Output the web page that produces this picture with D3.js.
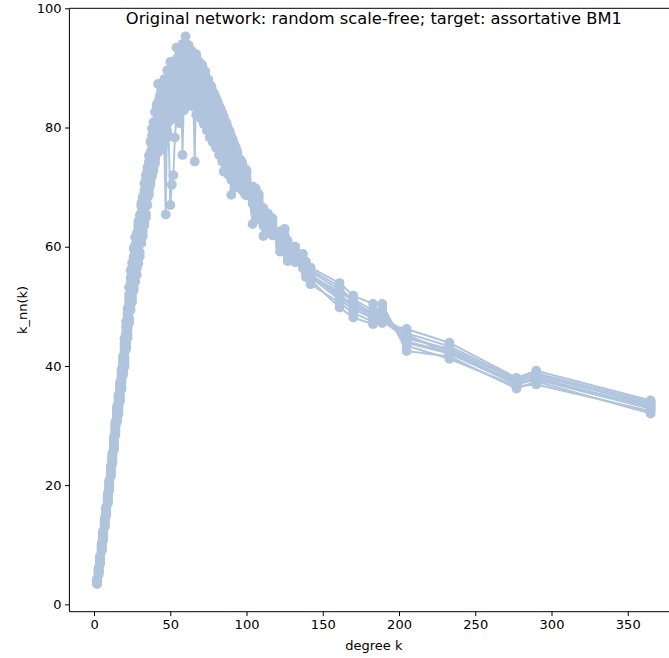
<!DOCTYPE html>
<html>
<head>
<meta charset="utf-8">
<script src="https://cdn.jsdelivr.net/npm/d3@7"></script>
<style>
  html, body { margin: 0; padding: 0; background: #fff; }
  svg { display: block; font-family: "DejaVu Sans", sans-serif; }
</style>
</head>
<body>
<svg id="chart" width="669" height="658"></svg>
<script>
// Degrees present in the network (shared by every rewiring run)
const degrees = [2,3,4,5,6,7,8,9,10,11,12,13,14,15,16,17,18,19,20,21,22,23,24,25,26,27,28,29,30,
  31,32,33,34,35,36,37,38,39,40,41,42,43,44,45,46,47,48,49,50,51,52,53,54,55,56,57,58,59,60,
  61,62,63,64,65,66,67,68,69,70,71,72,73,74,75,76,77,78,79,80,81,82,83,84,85,86,87,88,89,90,
  91,92,93,94,96,97,99,100,104,106,108,111,114,117,122,125,127,132,137,139,142,
  161,170,183,189,205,233,277,290,365];

// Average nearest-neighbour degree k_nn(k), one array per run
const runA = [3.6,5.4,7.3,9.2,11.4,13.6,15.3,17.8,19.6,22.4,24.1,27.3,29.0,31.8,33.2,35.5,37.9,39.6,42.3,44.0,
  47.8,49.1,52.9,54.1,56.2,57.4,59.8,60.4,62.7,63.2,65.8,66.7,68.9,69.6,71.0,72.6,74.1,75.8,76.2,78.3,
  77.6,80.4,79.1,81.8,80.2,83.5,82.0,84.6,83.1,85.9,84.4,86.8,85.2,87.9,86.3,89.4,87.0,90.2,88.5,91.0,
  89.3,90.6,88.0,91.3,87.5,90.1,86.9,89.5,85.8,88.4,84.9,87.6,83.8,86.5,82.7,85.3,81.9,84.0,80.8,82.9,
  79.7,81.6,78.8,80.3,77.5,79.0,76.4,77.8,75.0,76.5,73.9,75.2,72.6,71.4,73.0,70.1,71.5,
  69.6,68.2,66.0,66.5,63.4,64.8,61.0,62.9,59.4,59.6,57.3,56.1,55.0,
  52.0,50.2,48.6,48.0,45.0,42.6,37.2,37.9,33.2];
const runB = [4.1,5.9,7.0,9.8,11.0,13.1,16.0,17.2,20.3,21.5,25.0,26.4,30.2,30.9,34.6,34.1,36.6,41.2,40.6,46.5,
  45.3,52.0,50.2,51.6,53.1,60.3,56.4,63.5,59.1,66.8,62.5,69.4,65.5,72.6,69.2,74.5,72.0,73.4,79.5,75.6,
  80.8,78.2,82.7,79.6,84.5,81.3,86.2,82.9,88.4,84.0,89.5,85.5,90.3,86.4,91.0,87.7,92.5,88.8,93.2,89.6,
  93.8,87.4,91.7,88.6,92.1,86.8,90.7,85.9,89.6,84.7,88.8,83.4,87.9,82.6,86.6,81.5,85.4,80.6,84.3,79.5,
  83.1,78.4,82.0,77.3,80.9,76.2,79.6,74.9,78.3,73.6,77.0,72.4,75.7,74.3,70.6,72.7,69.2,
  67.9,69.8,68.4,64.2,65.6,62.7,62.6,60.6,61.0,58.1,58.8,57.5,56.5,
  53.9,51.8,50.4,47.2,46.2,43.9,38.0,39.2,34.2];
const runC = [3.5,5.2,7.8,8.9,12.0,14.2,15.1,18.3,19.1,22.9,23.6,27.8,28.6,32.4,31.9,36.9,38.8,38.5,43.8,43.1,
  49.6,47.3,54.8,57.3,58.4,55.0,62.2,58.0,65.3,60.6,68.1,64.3,71.2,67.0,75.3,70.4,76.5,80.9,74.0,83.8,
  78.9,82.6,80.0,83.9,82.1,85.4,80.6,87.8,82.3,87.3,85.8,89.9,87.0,91.8,88.5,92.8,89.6,93.6,90.8,93.9,
  88.1,92.2,86.5,90.4,89.2,91.9,88.0,90.3,87.4,89.9,86.2,88.7,85.0,87.8,84.3,86.6,83.1,85.2,82.0,84.0,
  80.9,82.9,79.6,81.5,78.4,80.3,77.3,79.0,68.7,77.8,75.0,76.4,73.8,72.5,73.9,71.0,72.4,
  63.8,67.1,65.5,65.8,64.0,63.9,59.2,61.9,57.6,59.0,56.4,55.5,53.7,
  50.6,48.9,47.4,49.6,43.4,41.2,36.6,36.9,32.4];
const runD = [3.9,6.1,6.8,9.5,11.7,13.0,16.4,17.5,20.8,21.8,24.8,26.9,29.7,31.2,33.8,35.1,37.2,40.7,41.5,45.2,
  46.1,50.6,49.4,53.0,54.5,58.9,57.6,62.1,60.5,64.9,63.7,68.0,66.8,71.4,70.1,77.6,73.0,74.6,77.8,76.9,
  87.3,79.5,86.1,80.7,78.6,65.4,84.8,81.4,86.9,83.2,87.9,84.7,89.1,85.6,92.4,88.9,75.4,86.4,95.3,87.8,
  91.5,89.0,92.9,87.2,74.3,88.4,91.2,87.1,90.2,86.0,89.3,85.2,88.2,84.1,87.0,83.0,85.9,82.1,84.9,80.8,
  83.6,79.9,82.5,78.7,81.1,77.6,79.8,76.3,78.5,75.2,77.2,73.7,75.9,74.6,71.8,73.1,70.0,
  69.0,66.0,67.9,61.8,65.1,62.2,62.1,60.1,60.2,58.5,58.0,57.0,55.8,
  52.8,51.2,49.3,47.6,44.6,42.9,37.6,38.4,33.6];
const runE = [4.3,5.6,7.5,10.3,10.8,13.9,15.7,16.9,19.9,23.2,25.4,25.9,30.6,32.0,35.1,37.2,36.1,39.0,39.9,47.4,
  44.7,53.2,51.7,55.6,59.7,54.1,60.9,57.2,63.9,61.4,66.9,63.6,70.0,68.2,72.8,71.3,79.8,72.8,82.6,79.7,
  76.1,85.2,78.4,85.1,86.0,82.7,87.1,85.7,89.0,88.6,90.5,88.2,91.4,89.7,87.6,90.9,93.0,91.7,89.4,92.6,
  86.9,93.1,89.8,92.0,88.3,92.3,85.6,91.0,84.5,90.5,83.7,89.4,82.5,88.0,81.4,86.9,80.3,85.6,79.2,84.4,
  78.5,83.2,77.4,81.9,76.5,80.7,75.2,79.4,74.1,77.9,72.8,76.6,71.7,70.2,74.2,69.3,72.8,
  68.3,69.3,64.6,66.1,62.8,64.5,60.4,63.0,58.8,60.0,57.6,55.9,54.4,
  49.8,48.1,47.0,50.4,42.5,41.6,36.2,37.4,32.0];
const runF = [3.7,5.0,8.1,9.1,12.3,14.5,14.9,18.6,20.1,22.0,24.4,28.1,28.9,33.1,32.5,34.4,39.4,41.6,44.6,42.8,
  48.9,48.0,56.0,50.8,52.7,61.6,55.3,64.2,58.4,67.3,61.8,70.6,64.9,73.3,68.7,75.8,71.9,78.4,75.1,77.4,
  81.9,77.0,81.5,76.3,80.9,79.8,83.3,78.5,67.0,70.4,72.0,78.3,81.6,84.0,80.7,83.5,85.8,82.9,86.7,84.2,
  88.0,85.3,83.6,86.8,84.9,82.1,87.4,83.9,88.6,82.6,87.1,81.8,86.3,80.4,85.5,79.6,84.2,78.7,83.0,77.9,
  82.0,77.2,80.8,72.6,79.6,75.3,74.0,73.4,77.0,72.5,75.6,70.9,74.3,73.0,69.5,71.6,68.6,
  70.1,67.5,68.8,64.9,64.4,63.1,61.7,61.2,60.5,58.8,56.9,56.6,56.1,
  53.3,50.6,48.9,48.3,45.5,43.3,37.8,38.8,33.9];
const runG = [3.8,5.7,7.6,9.7,11.2,13.4,15.9,17.9,20.6,22.2,24.7,27.0,29.4,31.5,33.5,35.8,37.5,40.2,
  42.9,45.6,46.9,50.1,51.2,54.7,55.8,57.9,59.3,61.1,62.3,64.4,67.1,66.3,69.5,70.8,
  72.1,73.2,75.2,76.9,78.6,80.1,81.4,82.1,83.4,84.0,84.9,83.7,86.1,85.0,87.6,86.9,88.7,87.8,89.9,88.6,91.2,89.5,92.4,90.1,91.9,
  90.7,92.0,89.4,90.9,88.8,89.9,87.7,88.9,86.6,87.8,85.6,86.7,84.6,85.9,83.5,84.7,82.4,83.5,81.3,82.5,
  80.5,81.2,79.3,80.1,78.2,79.0,77.1,76.4,77.6,75.0,76.1,73.8,74.6,73.2,
  72.0,72.6,71.2,70.6,
  68.7,68.9,66.9,65.4,64.7,63.5,61.5,61.8,59.8,59.3,57.9,56.8,55.4,
  51.5,50.0,48.2,48.8,44.1,42.3,37.0,38.1,33.0];
const runH = [3.4,5.8,7.1,9.9,11.9,13.3,15.6,18.1,19.4,21.7,23.9,26.6,29.9,30.6,34.0,36.3,38.2,39.3,
  41.0,43.6,48.3,47.8,53.9,52.4,57.8,56.6,61.2,58.8,64.0,63.0,67.8,65.1,69.0,71.9,
  69.8,73.6,72.6,76.1,74.6,78.9,75.9,80.6,78.0,82.9,77.3,84.1,79.4,85.6,81.2,86.3,83.0,87.1,84.5,88.2,85.9,89.0,86.5,90.5,87.9,
  89.9,86.3,88.7,85.1,87.9,84.0,86.1,82.8,85.0,81.5,84.0,80.6,83.1,79.5,82.2,78.3,81.0,77.5,79.9,76.6,
  78.7,75.4,77.9,74.3,76.8,73.0,75.7,72.1,74.4,71.2,73.1,69.9,72.0,70.8,
  70.6,71.4,68.8,69.7,
  67.2,66.5,65.0,63.5,63.6,61.9,60.0,59.8,58.4,57.4,56.6,54.9,54.9,
  51.1,49.5,48.0,49.0,43.9,42.1,36.9,37.7,32.8];
const runI = [4.0,5.3,7.9,9.4,11.6,14.0,16.2,17.3,20.0,22.6,24.2,26.2,28.4,32.7,33.0,35.9,38.4,40.1,
  43.3,44.9,46.6,51.3,50.8,56.5,54.0,59.2,60.1,62.9,62.0,65.7,68.4,67.5,72.0,69.4,
  74.2,71.0,78.6,73.6,81.0,77.9,84.3,79.0,86.7,82.3,88.1,81.0,89.6,84.7,91.0,87.4,90.1,88.3,93.4,89.1,91.4,87.6,94.0,90.6,92.7,
  88.9,92.8,87.3,89.6,90.7,86.2,89.3,88.2,86.5,87.3,85.2,84.1,86.0,82.9,84.0,83.6,81.7,82.8,80.2,81.6,
  79.1,80.0,78.1,78.8,76.9,77.9,75.7,76.8,74.6,75.6,73.3,74.5,72.2,73.7,
  71.7,72.3,70.5,71.1,
  68.9,67.0,67.4,64.6,65.3,63.0,62.4,61.5,59.0,58.6,57.0,56.3,55.2,
  52.4,51.0,48.4,47.9,45.3,42.0,37.4,38.6,33.4];

const runs = [runA, runB, runC, runD, runE, runF, runG, runH, runI];

const xTicks = [0, 50, 100, 150, 200, 250, 300, 350];
const yTicks = [0, 20, 40, 60, 80, 100];

const titleText = "Original network: random scale-free; target: assortative BM1";
const xLabel = "degree k";
const yLabel = "k_nn(k)";

const color = "#b0c4de";

const svg = d3.select("#chart");

// Axes box (right edge extends past the page)
const boxLeft = 69.4, boxTop = 8.3, boxBottom = 611.7, boxRight = 678.3;

const xMin = d3.min(degrees), xMax = d3.max(degrees);
const pad = (xMax - xMin) * 0.05;
const x = d3.scaleLinear().domain([xMin - pad, xMax + pad]).range([boxLeft, boxRight]);
const y = d3.scaleLinear().domain([-1.23, 100]).range([boxBottom, boxTop]);

svg.append("defs").append("clipPath").attr("id", "plotArea")
  .append("rect").attr("x", boxLeft).attr("y", boxTop)
  .attr("width", boxRight - boxLeft).attr("height", boxBottom - boxTop);

const plot = svg.append("g").attr("clip-path", "url(#plotArea)");

const line = d3.line().x((d, i) => x(degrees[i])).y(d => y(d));

runs.forEach(run => {
  const g = plot.append("g");
  g.append("path")
    .datum(run)
    .attr("d", line)
    .attr("fill", "none")
    .attr("stroke", color)
    .attr("stroke-width", 2)
    .attr("stroke-linejoin", "round");
  g.selectAll("circle")
    .data(run)
    .join("circle")
    .attr("cx", (d, i) => x(degrees[i]))
    .attr("cy", d => y(d))
    .attr("r", 4.9)
    .attr("fill", color);
});

// Axes
const fontSize = 13;
const xAxis = svg.append("g")
  .attr("transform", `translate(0,${boxBottom})`)
  .call(d3.axisBottom(x).tickValues(xTicks).tickSize(4.4).tickPadding(3.5).tickFormat(d3.format("d")));
const yAxis = svg.append("g")
  .attr("transform", `translate(${boxLeft},0)`)
  .call(d3.axisLeft(y).tickValues(yTicks).tickSize(4.4).tickPadding(3.5).tickFormat(d3.format("d")));

[xAxis, yAxis].forEach(ax => {
  ax.select(".domain").remove();
  ax.selectAll("line").attr("stroke", "#000").attr("stroke-width", 1);
  ax.selectAll("text").attr("fill", "#000")
    .style("font-size", fontSize + "px")
    .style("font-family", "'DejaVu Sans', sans-serif");
});

// Spines
const spine = svg.append("g").attr("stroke", "#000").attr("stroke-width", 1).attr("fill", "none");
spine.append("line").attr("x1", boxLeft).attr("x2", boxLeft).attr("y1", boxTop).attr("y2", boxBottom);
spine.append("line").attr("x1", boxLeft).attr("x2", boxRight).attr("y1", boxBottom).attr("y2", boxBottom);
spine.append("line").attr("x1", boxLeft).attr("x2", boxRight).attr("y1", boxTop).attr("y2", boxTop);
spine.append("line").attr("x1", boxRight).attr("x2", boxRight).attr("y1", boxTop).attr("y2", boxBottom);

// Labels and title
svg.append("text")
  .attr("x", (boxLeft + boxRight) / 2).attr("y", 649.5)
  .attr("text-anchor", "middle")
  .style("font-size", fontSize + "px")
  .text(xLabel);

svg.append("text")
  .attr("transform", `translate(27,${(boxTop + boxBottom) / 2}) rotate(-90)`)
  .attr("text-anchor", "middle")
  .style("font-size", fontSize + "px")
  .text(yLabel);

svg.append("text")
  .attr("x", (boxLeft + boxRight) / 2).attr("y", 23.5)
  .attr("text-anchor", "middle")
  .style("font-size", "16.3px")
  .text(titleText);
</script>
</body>
</html>
